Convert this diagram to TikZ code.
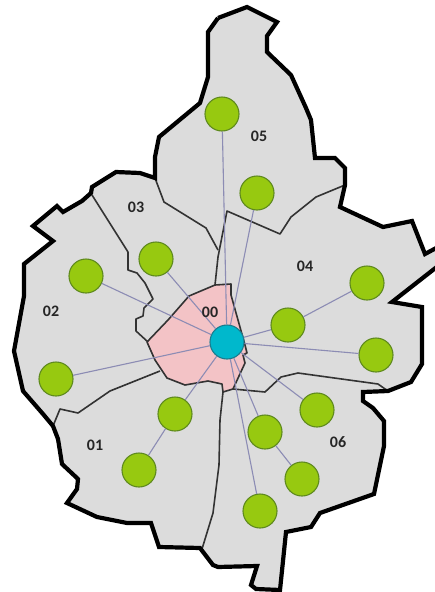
\documentclass[tikz,border=0pt]{standalone}
\usepackage{fontspec}
\setmainfont{Carlito}
\definecolor{regionfill}{HTML}{DCDCDC}
\definecolor{corefill}{HTML}{F3C3C6}
\definecolor{sitefill}{HTML}{97C910}
\definecolor{siteedge}{HTML}{5F8A1E}
\definecolor{hubfill}{HTML}{00B8CC}
\definecolor{hubedge}{HTML}{1B7C8E}
\definecolor{linkcol}{HTML}{8C8CB4}
\definecolor{bordercol}{HTML}{333333}
\tikzset{
  site/.style={circle,draw=siteedge,fill=sitefill,line width=1.1pt,minimum size=34pt,inner sep=0pt},
  hub/.style={circle,draw=hubedge,fill=hubfill,line width=1.1pt,minimum size=34pt,inner sep=0pt},
  link/.style={draw=linkcol,line width=1.1pt},
  inner border/.style={draw=bordercol,line width=1.6pt,line join=round},
  outer border/.style={draw=black,line width=4.2pt,line join=miter,miter limit=3},
  zone/.style={font=\bfseries\fontsize{16}{16}\selectfont,text=black!85,inner sep=0pt}
}
\begin{document}
\begin{tikzpicture}[x=1pt,y=-1pt]
\useasboundingbox (0,0) rectangle (435,592);
\clip (0,0) rectangle (435,592);
% outline fill
\path[fill=regionfill] (218,18) -- (208,32) -- (208,77) -- (200,103) -- (159,137) -- (155,157) -- (155,178) -- (140,173) -- (116,172) -- (92,187) -- (91,193) -- (82,201) -- (63,212) -- (57,206) -- (33,226) -- (53,241) -- (24,264) -- (24,296) -- (14,351) -- (23,391) -- (43,414) -- (53,426) -- (58,439) -- (62,464) -- (78,479) -- (77,489) -- (67,503) -- (97,517) -- (127,523) -- (151,523) -- (159,547) -- (200,548) -- (213,565) -- (218,567) -- (257,566) -- (251,585) -- (256,589) -- (280,590) -- (286,532) -- (311,527) -- (320,513) -- (374,494) -- (384,446) -- (384,421) -- (373,408) -- (363,401) -- (363,392) -- (388,391) -- (411,382) -- (422,364) -- (422,307) -- (392,302) -- (438,266) -- (438,247) -- (425,254) -- (412,221) -- (383,227) -- (340,207) -- (345,185) -- (345,168) -- (335,158) -- (315,158) -- (311,120) -- (306,108) -- (291,75) -- (267,52) -- (267,36) -- (277,22) -- (247,7) -- cycle;
% centre zone
\path[fill=corefill,inner border] (147,342) -- (168,320) -- (189,296) -- (215,285) -- (231,284) -- (231,295) -- (245,345) -- (247,353) -- (243,355) -- (245,363) -- (233,389) -- (223,392) -- (222,384) -- (208,381) -- (185,385) -- (167,378) -- (155,360) -- cycle;
% inner boundaries
\draw[inner border] (155,178) -- (164,202) -- (206,228) -- (218,250);
\draw[inner border] (345,185) -- (316,197) -- (291,217) -- (280,234) -- (227,211) -- (218,257) -- (215,285);
\draw[inner border] (92,195) -- (128,252) -- (128,270) -- (137,273) -- (145,283) -- (153,299) -- (144,308) -- (143,316) -- (136,319) -- (136,331) -- (148,342);
\draw[inner border] (160,371) -- (110,391) -- (78,413) -- (60,409) -- (53,426);
\draw[inner border] (223,392) -- (220,420) -- (219,465) -- (213,513) -- (202,549);
\draw[inner border] (233,389) -- (265,392) -- (281,377) -- (298,373) -- (378,384) -- (388,391);
% outline
\draw[outer border] (218,18) -- (208,32) -- (208,77) -- (200,103) -- (159,137) -- (155,157) -- (155,178) -- (140,173) -- (116,172) -- (92,187) -- (91,193) -- (82,201) -- (63,212) -- (57,206) -- (33,226) -- (53,241) -- (24,264) -- (24,296) -- (14,351) -- (23,391) -- (43,414) -- (53,426) -- (58,439) -- (62,464) -- (78,479) -- (77,489) -- (67,503) -- (97,517) -- (127,523) -- (151,523) -- (159,547) -- (200,548) -- (213,565) -- (218,567) -- (257,566) -- (251,585) -- (256,589) -- (280,590) -- (286,532) -- (311,527) -- (320,513) -- (374,494) -- (384,446) -- (384,421) -- (373,408) -- (363,401) -- (363,392) -- (388,391) -- (411,382) -- (422,364) -- (422,307) -- (392,302) -- (438,266);
\draw[outer border] (438,247) -- (425,254) -- (412,221) -- (383,227) -- (340,207) -- (345,185) -- (345,168) -- (335,158) -- (315,158) -- (311,120) -- (306,108) -- (291,75) -- (267,52) -- (267,36) -- (277,22) -- (247,7) -- (218,18);
% nodes
\node[hub] (h) at (227,342) {};
\node[site] (a) at (222,114) {};
\node[site] (b) at (257,193) {};
\node[site] (c) at (156,259) {};
\node[site] (d) at (86,276) {};
\node[site] (e) at (56,379) {};
\node[site] (f) at (175,414) {};
\node[site] (g) at (139,470) {};
\node[site] (i) at (288,325) {};
\node[site] (j) at (367,283) {};
\node[site] (k) at (376,355) {};
\node[site] (l) at (317,410) {};
\node[site] (m) at (265,432) {};
\node[site] (n) at (302,479) {};
\node[site] (o) at (260,511) {};
% connectors
\foreach \s in {a,b,c,d,e,f,i,k,l,m,o} \draw[link] (h) -- (\s);
\draw[link] (f) -- (g);
\draw[link] (i) -- (j);
\draw[link] (m) -- (n);
% labels
\node[zone] (t00) at (210,312) {00};
\node[zone] (t01) at (95,445) {01};
\node[zone] (t02) at (51,311) {02};
\node[zone] (t03) at (136,207) {03};
\node[zone] (t04) at (305,266) {04};
\node[zone] (t05) at (259,136) {05};
\node[zone] (t06) at (338,442) {06};
\end{tikzpicture}
\end{document}
